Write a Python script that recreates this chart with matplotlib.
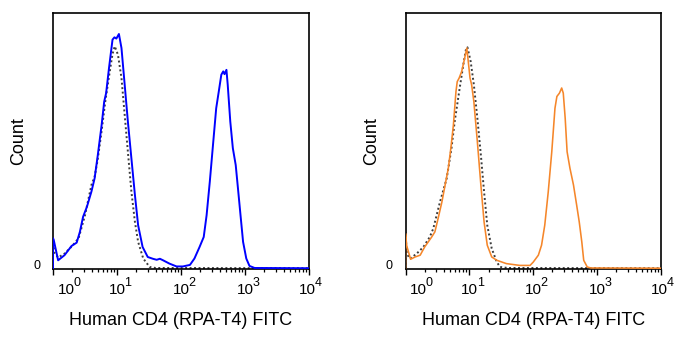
import numpy as np
import matplotlib
matplotlib.use('Agg')
import matplotlib.pyplot as plt

plt.rcParams['font.family'] = ['Liberation Sans', 'DejaVu Sans']

# Histogram traces: x in decades (log10 of FITC intensity), y in % of axis height
stain1_log = [0.0, 0.0, 0.01, 0.08, 0.18, 0.29, 0.37, 0.42, 0.47, 0.53, 0.60, 0.65,
              0.70, 0.76, 0.80, 0.83, 0.875, 0.93, 0.96, 0.99, 1.03, 1.07, 1.12,
              1.17, 1.225, 1.28, 1.33, 1.40, 1.48, 1.56, 1.62, 1.67, 1.72, 1.82,
              1.93, 2.03, 2.14, 2.21, 2.29, 2.355, 2.40, 2.45, 2.50, 2.55, 2.59,
              2.63, 2.66, 2.68, 2.71, 2.73, 2.77, 2.81, 2.855, 2.89, 2.93, 2.97,
              3.02, 3.07, 3.15, 4.0]
stain1_count = [0.0, 12.0, 11.5, 3.4, 5.4, 9.0, 10.3, 14.5, 20.4, 24.3, 30.2, 35.4,
                44.5, 56.3, 65.4, 68.7, 78.5, 89.6, 90.5, 90.0, 91.8, 86.3, 72.0,
                57.6, 43.2, 28.9, 17.1, 8.6, 4.7, 4.0, 3.6, 4.0, 3.4, 2.1,
                1.0, 1.0, 1.6, 4.1, 8.6, 12.5, 21.0, 34.1, 48.5, 62.8, 69.3,
                75.9, 77.2, 76.1, 77.8, 72.0, 57.6, 47.2, 40.6, 31.5, 21.0, 10.6,
                4.1, 1.2, 0.4, 0.3]

ctrl1_log = [0.0, 0.0, 0.02, 0.08, 0.18, 0.30, 0.40, 0.50, 0.60, 0.65, 0.70, 0.76,
             0.82, 0.88, 0.93, 0.965, 1.015, 1.07, 1.12, 1.17, 1.225, 1.28, 1.33,
             1.41, 1.51, 1.6, 4.0]
ctrl1_count = [0.0, 11.2, 6.5, 4.5, 6.0, 9.0, 12.0, 21.0, 32.8, 36.0, 43.0, 54.0,
               66.0, 76.0, 84.0, 87.0, 83.7, 74.6, 60.2, 45.8, 30.2, 18.4, 10.6,
               4.1, 0.8, 0.4, 0.3]

stain2_log = [0.0, 0.0, 0.02, 0.08, 0.15, 0.23, 0.30, 0.41, 0.46, 0.51, 0.57, 0.62,
              0.67, 0.71, 0.75, 0.79, 0.81, 0.84, 0.88, 0.915, 0.96, 0.98, 1.01,
              1.035, 1.07, 1.125, 1.18, 1.23, 1.28, 1.35, 1.43, 1.58, 1.79, 1.95,
              2.0, 2.08, 2.13, 2.18, 2.235, 2.29, 2.34, 2.37, 2.41, 2.445, 2.47,
              2.50, 2.53, 2.575, 2.63, 2.68, 2.72, 2.76, 2.79, 2.845, 2.9, 4.0]
stain2_count = [0.0, 13.9, 9.0, 3.8, 4.7, 5.4, 8.6, 12.5, 14.5, 19.7, 26.2, 32.8,
                39.3, 47.2, 56.3, 69.3, 73.2, 74.6, 77.2, 81.1, 86.3, 81.7, 74.6,
                72.0, 65.4, 49.7, 32.8, 18.4, 9.3, 4.7, 3.4, 2.1, 1.4, 1.4,
                2.7, 5.4, 9.3, 17.1, 30.2, 45.8, 62.8, 67.4, 68.7, 70.7, 68.7,
                58.9, 45.8, 39.3, 32.8, 24.9, 18.4, 10.6, 3.4, 0.8, 0.4, 0.3]

ctrl2_log = [0.0, 0.0, 0.02, 0.07, 0.175, 0.28, 0.38, 0.435, 0.54, 0.645, 0.72,
             0.77, 0.84, 0.905, 0.95, 0.97, 1.02, 1.07, 1.125, 1.18, 1.23, 1.28,
             1.35, 1.43, 1.48, 1.6, 4.0]
ctrl2_count = [0.0, 14.0, 6.0, 4.0, 6.0, 8.6, 12.5, 15.8, 26.2, 35.4, 47.2,
               57.6, 69.3, 79.8, 86.3, 86.6, 81.1, 72.0, 58.9, 44.5, 30.2, 17.1,
               8.0, 2.7, 0.8, 0.4, 0.3]

decades = [0, 1, 2, 3, 4]
xlabel = 'Human CD4 (RPA-T4) FITC'

PX = 0.72  # points per pixel at 100 dpi

fig = plt.figure(figsize=(6.93, 3.44), dpi=100)
ax1 = fig.add_axes([53 / 693, 1 - 269 / 344, 256 / 693, 256 / 344])
ax2 = fig.add_axes([405.5 / 693, 1 - 269 / 344, 255.5 / 693, 256 / 344])

panels = [
    (ax1, stain1_log, stain1_count, ctrl1_log, ctrl1_count, '#0000ff', 1.4),
    (ax2, stain2_log, stain2_count, ctrl2_log, ctrl2_count, '#f5862a', 1.15),
]

# horizontal nudge (px) of each decade label, the end ones kept inside the frame
label_shift = [13, 0, 0, 0, -2]

for ax, sx, sy, cx, cy, col, lw in panels:
    ax.plot(10 ** np.array(cx), cy, linestyle=(0, (1, 1.3)), color='#3c3c3c',
            linewidth=1.4, zorder=2)
    ax.plot(10 ** np.array(sx), sy, color=col, linewidth=lw, zorder=3)

    ax.set_xscale('log')
    ax.set_xlim(1, 1e4)
    ax.set_ylim(0, 100)

    ticks = [10.0 ** d for d in decades]
    ax.set_xticks(ticks)
    ax.set_xticklabels([])
    ax.xaxis.set_minor_locator(matplotlib.ticker.LogLocator(base=10, subs=np.arange(2, 10)))
    ax.xaxis.set_minor_formatter(matplotlib.ticker.NullFormatter())
    ax.tick_params(axis='x', which='major', direction='out', length=4.3, width=1.0)
    ax.tick_params(axis='x', which='minor', direction='out', length=2.4, width=0.9)

    # decade labels: "10" centred on the tick, exponent raised to its right
    for t, d, dx in zip(ticks, decades, label_shift):
        ax.annotate('10', xy=(t, 0), xycoords=('data', 'axes fraction'),
                    xytext=(dx * PX, -25 * PX), textcoords='offset points',
                    ha='center', va='baseline', fontsize=11)
        ax.annotate(str(d), xy=(t, 0), xycoords=('data', 'axes fraction'),
                    xytext=((dx + 7.5) * PX, -17.5 * PX), textcoords='offset points',
                    ha='left', va='baseline', fontsize=9)

    ax.set_yticks([])
    ax.annotate('0', xy=(0, 0), xycoords='axes fraction',
                xytext=(-12.5 * PX, 0), textcoords='offset points',
                ha='right', va='baseline', fontsize=9)

    for s in ax.spines.values():
        s.set_linewidth(1.2)
        s.set_color('black')

    ax.set_ylabel('Count', fontsize=13)
    ax.yaxis.set_label_coords(-0.10, 0.5)
    ax.set_xlabel(xlabel, fontsize=13, va='top')
    ax.xaxis.set_label_coords(0.5, -0.168)

fig.savefig('out.png', dpi=100)
